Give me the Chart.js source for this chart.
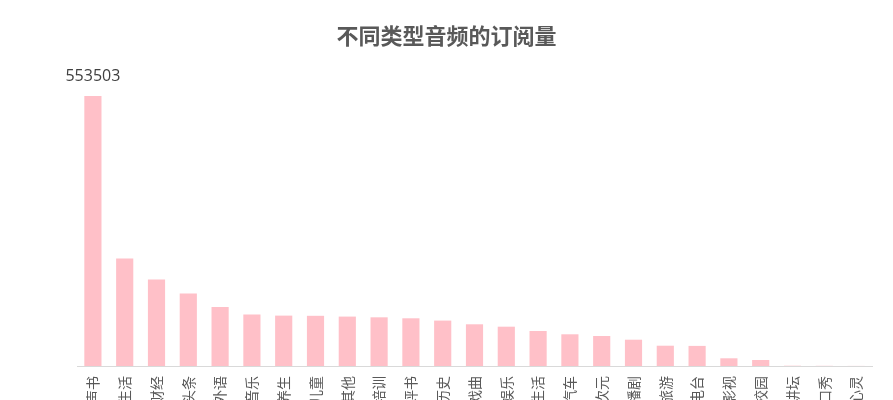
<!DOCTYPE html>
<html>
<head>
<meta charset="utf-8">
<script src="https://cdn.jsdelivr.net/npm/chart.js@4"></script>
<style>
html,body{margin:0;padding:0;background:#fff;overflow:hidden;}
#wrap{width:893px;height:500px;}
</style>
</head>
<body>
<div id="wrap"><canvas id="c" width="893" height="500"></canvas></div>
<script>
const titleText = '不同类型音频的订阅量';
const categories = ['有声书','情感生活','商业财经','头条','外语','音乐','健康养生','儿童','其他','教育培训','相声评书','历史','戏曲','娱乐','时尚生活','汽车','二次元','广播剧','旅游','电台','影视','校园','百家讲坛','脱口秀','心灵'];
const subscriptions = [553503,220200,177100,148400,121000,105400,103300,102900,101300,99800,97800,93100,85500,80600,71800,65000,61500,53900,41600,41200,15800,12300,600,400,200];
const labelledIndexes = [0];

const valueLabelPlugin = {
  id: 'valueLabel',
  afterDatasetsDraw(chart) {
    const ctx = chart.ctx;
    const meta = chart.getDatasetMeta(0);
    ctx.save();
    ctx.font = '16px "Open Sans", "Noto Sans", sans-serif';
    ctx.fillStyle = '#404040';
    ctx.textAlign = 'center';
    ctx.textBaseline = 'bottom';
    labelledIndexes.forEach(i => {
      const el = meta.data[i];
      ctx.fillText(String(subscriptions[i]), el.x, el.y - 12);
    });
    ctx.restore();
  }
};

new Chart(document.getElementById('c'), {
  type: 'bar',
  data: {
    labels: categories,
    datasets: [{
      data: subscriptions,
      backgroundColor: '#FFC0C8',
      borderWidth: 0,
      categoryPercentage: 1,
      barPercentage: 0.54
    }]
  },
  options: {
    responsive: false,
    animation: false,
    devicePixelRatio: 1,
    layout: { padding: { left: 21, right: 21, top: 0, bottom: 0 } },
    plugins: {
      legend: { display: false },
      tooltip: { enabled: false },
      title: {
        display: true,
        text: titleText,
        color: '#595959',
        font: { family: '"Noto Sans CJK SC", sans-serif', size: 22, weight: 'bold' },
        padding: { top: 22, bottom: 17.6 }
      }
    },
    scales: {
      x: {
        grid: { display: false, drawTicks: false },
        border: { display: true, color: '#d9d9d9', width: 1 },
        ticks: {
          autoSkip: false,
          maxRotation: 90,
          minRotation: 90,
          padding: 10,
          color: '#595959',
          font: { family: '"Noto Sans CJK SC", sans-serif', size: 14 }
        },
        afterFit(scale) { scale.height = 134; }
      },
      y: {
        display: true,
        min: 0,
        max: 615000,
        grid: { display: false, drawTicks: false },
        border: { display: false },
        ticks: { display: false },
        afterFit(scale) { scale.width = 56; }
      }
    }
  },
  plugins: [valueLabelPlugin]
});
</script>
</body>
</html>
